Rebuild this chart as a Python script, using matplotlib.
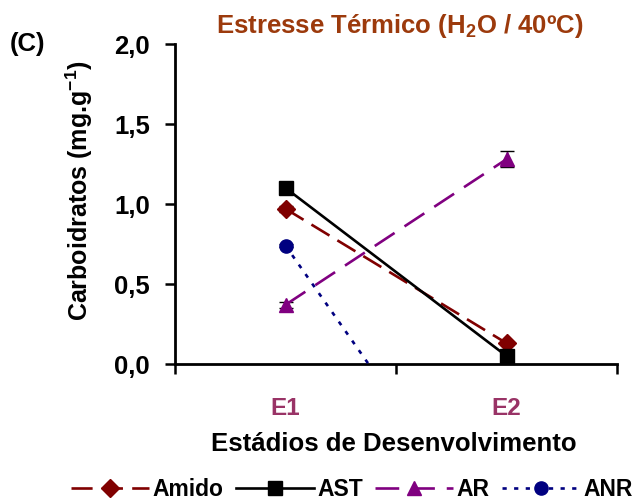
import matplotlib
matplotlib.use("Agg")
import matplotlib.pyplot as plt
from matplotlib.lines import Line2D
import numpy as np

plt.rcParams["font.family"] = ["Liberation Sans", "DejaVu Sans"]
plt.rcParams["font.weight"] = "bold"
plt.rcParams["mathtext.fontset"] = "custom"
plt.rcParams["mathtext.rm"] = "Liberation Sans:bold"
plt.rcParams["mathtext.bf"] = "Liberation Sans:bold"

stages = ["E1", "E2"]
amido = [0.97, 0.13]
amido_err = [0.02, 0.01]
ast = [1.10, 0.05]
ast_err = [0.02, 0.01]
ar = [0.37, 1.28]
ar_err = [0.02, 0.05]
anr = [0.74, -1.23]
anr_err = [0.01, 0.0]

x = np.array([0.5, 1.5])

fig = plt.figure(figsize=(6.39, 5.04), dpi=100)
ax = fig.add_axes([175 / 639, 140 / 504, 442 / 639, 320 / 504])

lw = 1.9
series = [
    ("Amido", amido, amido_err, "#800000", "D", (0, (8, 3.5)), 9),
    ("AST", ast, ast_err, "black", "s", "-", 9.5),
    ("AR", ar, ar_err, "#800080", "^", (0, (9, 4.5)), 10),
    ("ANR", anr, anr_err, "#000080", "o", (0, (1.6, 2.8)), 9.5),
]
handles = []
for name, y, err, color, mk, ls, ms in series:
    ax.errorbar(x, y, yerr=err, color=color, marker=mk, linestyle=ls,
                linewidth=lw, markersize=ms, ecolor="black", elinewidth=1,
                capsize=5, zorder=3)
    handles.append(Line2D([], [], color=color, marker=mk, linestyle=ls,
                          linewidth=lw, markersize=ms, label=name))

ax.set_xlim(0, 2)
ax.set_ylim(0, 2.0)
ax.set_yticks([0, 0.5, 1.0, 1.5, 2.0])
ax.set_yticklabels(["0,0", "0,5", "1,0", "1,5", "2,0"], fontsize=18.5,
                   fontweight="bold")
ax.set_xticks([0, 1, 2])
ax.set_xticklabels([])
ax.set_xticks(x, minor=True)
ax.set_xticklabels(stages, minor=True, fontsize=17.5, fontweight="bold",
                   color="#993366")
ax.tick_params(axis="x", which="minor", length=0, pad=24)
ax.tick_params(axis="both", which="major", direction="out", length=7,
               width=1.8, pad=11)
for side in ("top", "right"):
    ax.spines[side].set_visible(False)
for side in ("left", "bottom"):
    ax.spines[side].set_linewidth(2.0)

ax.set_xlabel("Estádios de Desenvolvimento", fontsize=18.5, fontweight="bold")
ax.xaxis.set_label_coords(0.495, -0.2125)
ax.set_ylabel(r"Carboidratos (mg.g$^{\mathbf{-1}}$)", fontsize=18,
              fontweight="bold")
ax.yaxis.set_label_coords(-0.181, 0.54)

fig.text(400 / 639, 1 - 26 / 504, r"Estresse Térmico (H$_{\mathbf{2}}$O / 40ºC)",
         ha="center", va="center", fontsize=18.5, fontweight="bold",
         color="#9C3A0C")
fig.text(10 / 639, 1 - 44 / 504, "(C)", ha="left", va="center", fontsize=18.5,
         fontweight="bold")

fig.legend(handles=handles, loc="center", bbox_to_anchor=(352 / 639, 1 - 490 / 504),
           ncol=4, frameon=False, fontsize=16.5, handlelength=3.4,
           columnspacing=0.55, handletextpad=0.15, borderpad=0.2)

fig.savefig("out.png", dpi=100)
